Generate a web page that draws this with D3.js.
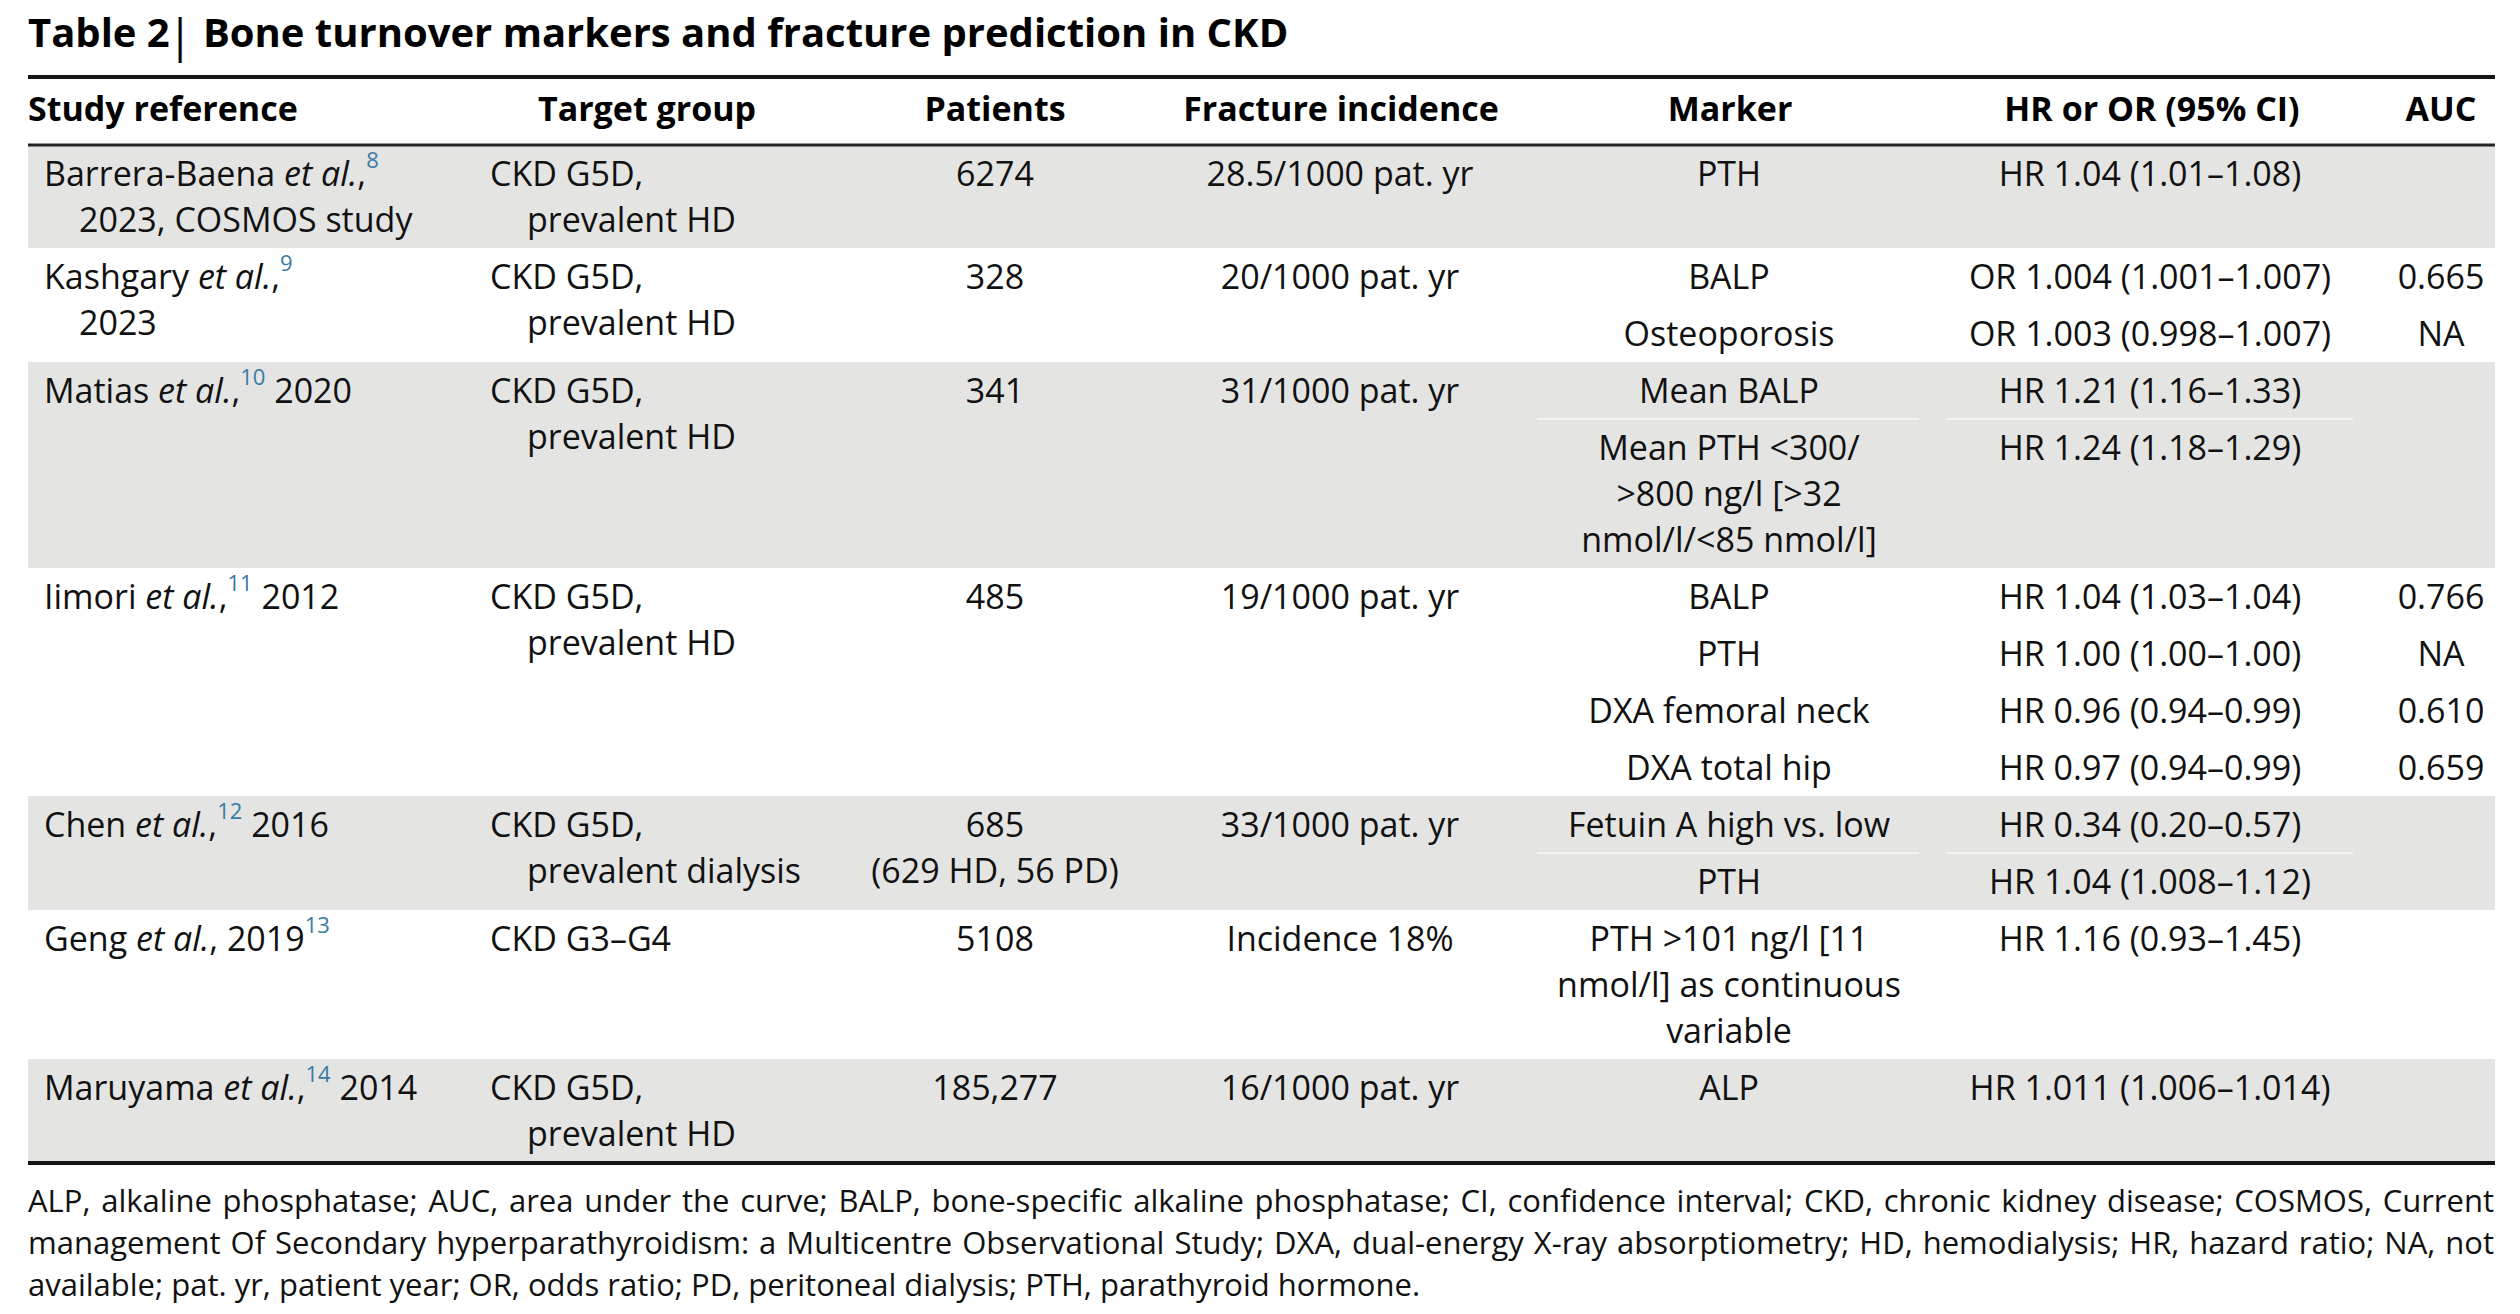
<!DOCTYPE html>
<html>
<head>
<meta charset="utf-8">
<script src="https://cdn.jsdelivr.net/npm/d3@7"></script>
<style>
html, body { margin: 0; padding: 0; background: #fff; }
svg { display: block; font-family: "Open Sans", "Noto Sans", sans-serif; }
</style>
</head>
<body>
<div id="chart"></div>
<script>
(function () {

const width = 2520, height = 1314;

// ---- table content ----
const titleLead = "Table 2";
const titleRest = " Bone turnover markers and fracture prediction in CKD";

const headers = ["Study reference", "Target group", "Patients", "Fracture incidence", "Marker", "HR or OR (95% CI)", "AUC"];

// study reference: lines of [text, style]; n = normal, i = italic, s = superscript ref number
const studies = [
  [[["Barrera-Baena ", "n"], ["et al.", "i"], [",", "n"], ["8", "s"]], [["2023, COSMOS study", "n"]]],
  [[["Kashgary ", "n"], ["et al.", "i"], [",", "n"], ["9", "s"]], [["2023", "n"]]],
  [[["Matias ", "n"], ["et al.", "i"], [",", "n"], ["10", "s"], [" 2020", "n"]]],
  [[["Iimori ", "n"], ["et al.", "i"], [",", "n"], ["11", "s"], [" 2012", "n"]]],
  [[["Chen ", "n"], ["et al.", "i"], [",", "n"], ["12", "s"], [" 2016", "n"]]],
  [[["Geng ", "n"], ["et al.", "i"], [", 2019", "n"], ["13", "s"]]],
  [[["Maruyama ", "n"], ["et al.", "i"], [",", "n"], ["14", "s"], [" 2014", "n"]]]
];

const targets = [
  ["CKD G5D,", "prevalent HD"],
  ["CKD G5D,", "prevalent HD"],
  ["CKD G5D,", "prevalent HD"],
  ["CKD G5D,", "prevalent HD"],
  ["CKD G5D,", "prevalent dialysis"],
  ["CKD G3–G4"],
  ["CKD G5D,", "prevalent HD"]
];

const patients = [["6274"], ["328"], ["341"], ["485"], ["685", "(629 HD, 56 PD)"], ["5108"], ["185,277"]];

const incidence = [
  ["28.5/1000 pat. yr"], ["20/1000 pat. yr"], ["31/1000 pat. yr"], ["19/1000 pat. yr"],
  ["33/1000 pat. yr"], ["Incidence 18%"], ["16/1000 pat. yr"]
];

// one entry per sub-row, each sub-row is a list of wrapped lines
const markers = [
  [["PTH"]],
  [["BALP"], ["Osteoporosis"]],
  [["Mean BALP"], ["Mean PTH <300/", ">800 ng/l [>32", "nmol/l/<85 nmol/l]"]],
  [["BALP"], ["PTH"], ["DXA femoral neck"], ["DXA total hip"]],
  [["Fetuin A high vs. low"], ["PTH"]],
  [["PTH >101 ng/l [11", "nmol/l] as continuous", "variable"]],
  [["ALP"]]
];

const ratios = [
  ["HR 1.04 (1.01–1.08)"],
  ["OR 1.004 (1.001–1.007)", "OR 1.003 (0.998–1.007)"],
  ["HR 1.21 (1.16–1.33)", "HR 1.24 (1.18–1.29)"],
  ["HR 1.04 (1.03–1.04)", "HR 1.00 (1.00–1.00)", "HR 0.96 (0.94–0.99)", "HR 0.97 (0.94–0.99)"],
  ["HR 0.34 (0.20–0.57)", "HR 1.04 (1.008–1.12)"],
  ["HR 1.16 (0.93–1.45)"],
  ["HR 1.011 (1.006–1.014)"]
];

const aucs = [
  [""],
  ["0.665", "NA"],
  ["", ""],
  ["0.766", "NA", "0.610", "0.659"],
  ["", ""],
  [""],
  [""]
];

const footLines = [
  "ALP, alkaline phosphatase; AUC, area under the curve; BALP, bone-specific alkaline phosphatase; CI, confidence interval; CKD, chronic kidney disease; COSMOS, Current",
  "management Of Secondary hyperparathyroidism: a Multicentre Observational Study; DXA, dual-energy X-ray absorptiometry; HD, hemodialysis; HR, hazard ratio; NA, not",
  "available; pat. yr, patient year; OR, odds ratio; PD, peritoneal dialysis; PTH, parathyroid hormone."
];

// ---- layout ----
const left = 28, right = 2495;
const headTop = 145;          // header bottom rule
const subH = 57, lineH = 46, firstBase = 41;
const bodySize = 34, headSize = 34;

const headX = d3.scaleOrdinal().domain(headers).range([28, 647, 995, 1341, 1730, 2152, 2441]);
const colX = d3.scaleOrdinal()
  .domain(["study", "target", "patients", "incidence", "marker", "ratio", "auc"])
  .range([44, 490, 995, 1340, 1729, 2150, 2441]);
const indent = 35;

// row heights from line counts
const rowInfo = studies.map((s, r) => {
  const leftLines = d3.max([s.length, targets[r].length, patients[r].length, incidence[r].length]);
  const subHeights = markers[r].map(m => subH + (m.length - 1) * lineH);
  const h = Math.max(subH + (leftLines - 1) * lineH, d3.sum(subHeights));
  return {h, subHeights};
});
const rowTops = [headTop, ...d3.cumsum(rowInfo, d => d.h).map(v => headTop + v)];
const tableBottom = rowTops[rowTops.length - 1];

const svg = d3.select("#chart").append("svg")
  .attr("width", width)
  .attr("height", height);

// zebra bands
svg.selectAll("rect.band")
  .data(rowInfo)
  .join("rect")
  .attr("class", "band")
  .attr("x", left)
  .attr("width", right - left)
  .attr("y", (d, i) => rowTops[i])
  .attr("height", d => d.h)
  .attr("fill", (d, i) => i % 2 === 0 ? "#e4e4e3" : "#fff");

// faint sub-row separators inside shaded rows
rowInfo.forEach((d, r) => {
  if (r % 2 !== 0) return;
  let y = rowTops[r];
  d.subHeights.forEach((h, j) => {
    if (j > 0) {
      [[1537, 1919], [1947, 2353]].forEach(([x1, x2]) => {
        svg.append("line")
          .attr("x1", x1).attr("x2", x2).attr("y1", y).attr("y2", y)
          .attr("stroke", "#f4f4f3").attr("stroke-width", 2);
      });
    }
    y += h;
  });
});

// rules
svg.append("line").attr("x1", left).attr("x2", right).attr("y1", 77).attr("y2", 77)
  .attr("stroke", "#151515").attr("stroke-width", 4);
svg.append("line").attr("x1", left).attr("x2", right).attr("y1", headTop).attr("y2", headTop)
  .attr("stroke", "#222").attr("stroke-width", 3);
svg.append("line").attr("x1", left).attr("x2", right).attr("y1", tableBottom + 1).attr("y2", tableBottom + 1)
  .attr("stroke", "#151515").attr("stroke-width", 4);

// title
const title = svg.append("text")
  .attr("x", left).attr("y", 47)
  .attr("font-size", 40).attr("font-weight", 700).attr("fill", "#000");
title.append("tspan").text(titleLead);
title.append("tspan").attr("font-weight", 400).attr("font-size", 45).attr("dy", 5).attr("dx", -2).text("|");
title.append("tspan").attr("dy", -5).text(titleRest);

// header labels
svg.selectAll("text.head")
  .data(headers)
  .join("text")
  .attr("class", "head")
  .attr("x", d => headX(d))
  .attr("y", 121)
  .attr("text-anchor", (d, i) => i === 0 ? "start" : "middle")
  .attr("font-size", headSize).attr("font-weight", 700).attr("fill", "#000")
  .text(d => d);

function plain(x, y, str, anchor) {
  svg.append("text")
    .attr("x", x).attr("y", y)
    .attr("text-anchor", anchor)
    .attr("font-size", bodySize).attr("fill", "#111")
    .text(str);
}

studies.forEach((lines, r) => {
  const top = rowTops[r];

  // study reference with italics and blue superscripts
  lines.forEach((pieces, k) => {
    const t = svg.append("text")
      .attr("x", colX("study") + (k > 0 ? indent : 0))
      .attr("y", top + firstBase + k * lineH)
      .attr("font-size", bodySize).attr("fill", "#111");
    let shift = 0;
    pieces.forEach(([str, style]) => {
      const sp = t.append("tspan").text(str);
      if (style === "s") {
        sp.attr("dy", -18 - shift).attr("font-size", 22).attr("fill", "#3a7aa3");
        shift = -18;
      } else {
        if (shift !== 0) { sp.attr("dy", -shift); shift = 0; }
        if (style === "i") sp.attr("font-style", "italic");
      }
    });
  });

  targets[r].forEach((str, k) =>
    plain(colX("target") + (k > 0 ? indent + 2 : 0), top + firstBase + k * lineH, str, "start"));
  patients[r].forEach((str, k) =>
    plain(colX("patients"), top + firstBase + k * lineH, str, "middle"));
  incidence[r].forEach((str, k) =>
    plain(colX("incidence"), top + firstBase + k * lineH, str, "middle"));

  // sub-rows on the right
  let subTop = top;
  markers[r].forEach((mLines, j) => {
    mLines.forEach((str, k) =>
      plain(colX("marker"), subTop + firstBase + k * lineH, str, "middle"));
    plain(colX("ratio"), subTop + firstBase, ratios[r][j], "middle");
    if (aucs[r][j]) plain(colX("auc"), subTop + firstBase, aucs[r][j], "middle");
    subTop += rowInfo[r].subHeights[j];
  });
});

// footnote, justified
const footSize = 31;
footLines.forEach((line, i) => {
  const words = line.split(" ");
  const t = svg.append("text")
    .attr("y", 1212 + i * 42)
    .attr("font-size", footSize).attr("fill", "#111");
  const spans = words.map(w => t.append("tspan").text(w));
  const widths = spans.map(s => s.node().getComputedTextLength());
  const last = i === footLines.length - 1;
  const gap = last ? footSize * 0.26 : (right - 1 - left - d3.sum(widths)) / (words.length - 1);
  let x = left;
  spans.forEach((s, k) => { s.attr("x", x); x += widths[k] + gap; });
});

})()
</script>
</body>
</html>
